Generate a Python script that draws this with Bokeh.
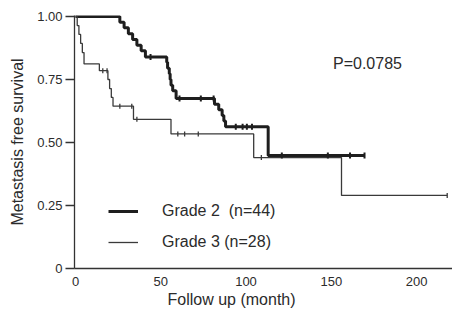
import numpy as np
from bokeh.plotting import figure
from bokeh.models import (Range1d, FixedTicker, Label, Legend, LegendItem, Title)
from bokeh.embed import file_html
from bokeh.resources import INLINE

# ---- data ----
# Grade 2 (n=44): step times (months) and survival after each step
g2_time = [0, 26, 28.5, 31, 33.5, 36, 38.5, 41, 53.5, 54, 55, 55.5, 56, 57, 59,
           81.5, 84, 86, 87, 88, 113, 169.5]
g2_surv = [1.0, 0.977, 0.955, 0.932, 0.909, 0.886, 0.864, 0.839, 0.818, 0.795,
           0.773, 0.750, 0.727, 0.705, 0.675, 0.652, 0.630, 0.607, 0.585, 0.563,
           0.448, 0.448]
g2_censor = [44, 61, 73.5, 81, 94, 98, 100.5, 103.5, 121, 148, 161, 169.5]

# Grade 3 (n=28)
g3_time = [0, 1, 2, 3, 4, 5, 14, 19, 20, 21, 22, 34, 56, 104.5, 156, 218]
g3_surv = [1.0, 0.964, 0.929, 0.893, 0.857, 0.812, 0.785, 0.75, 0.714, 0.679,
           0.644, 0.592, 0.534, 0.44, 0.29, 0.29]
g3_censor = [16, 18.5, 26, 33, 36, 60, 64, 72, 109, 218]

y_ticks = [0, 0.25, 0.5, 0.75, 1.0]
y_tick_labels = {0: "0", 0.25: "0.25", 0.5: "0.50", 0.75: "0.75", 1.0: "1.00"}
x_ticks = [0, 50, 100, 150, 200]

labels = ["Grade 2  (n=44)", "Grade 3 (n=28)"]
p_value_text = "P=0.0785"
x_title = "Follow up (month)"
y_title = "Metastasis free survival"

FONT = "Liberation Sans"
TXT = "#2b2b2b"


def surv_at(times, survs, t):
    idx = np.searchsorted(np.asarray(times), t, side="right") - 1
    return [survs[i] for i in idx]


p = figure(width=452, height=309, output_backend="svg", toolbar_location=None,
           x_range=Range1d(-0.59, 221.1), y_range=Range1d(0, 1.004),
           min_border_left=74, min_border_right=0, min_border_top=15,
           min_border_bottom=41)
p.outline_line_color = None
p.xgrid.visible = False
p.ygrid.visible = False
p.background_fill_color = "white"
p.border_fill_color = "white"

r2 = p.step(g2_time, g2_surv, mode="after", line_color="#1e1e1e", line_width=3)
r3 = p.step(g3_time, g3_surv, mode="after", line_color="#3a3a3a", line_width=1.3)

p.scatter(g2_censor, surv_at(g2_time, g2_surv, g2_censor), marker="dash",
          angle=np.pi / 2, size=6, line_color="#1e1e1e", line_width=2)
p.scatter(g3_censor, surv_at(g3_time, g3_surv, g3_censor), marker="dash",
          angle=np.pi / 2, size=5, line_color="#3a3a3a", line_width=1.3)

# axes
yax = p.yaxis[0]
yax.ticker = FixedTicker(ticks=y_ticks)
yax.major_label_overrides = y_tick_labels
yax.minor_tick_line_color = None
yax.major_tick_in = 0
yax.major_tick_out = 9
yax.major_tick_line_color = "#333333"
yax.major_tick_line_width = 1.3
yax.axis_line_color = "#333333"
yax.axis_line_width = 1.3
yax.major_label_standoff = 3
yax.major_label_text_font = FONT
yax.major_label_text_font_size = "13px"
yax.major_label_text_color = TXT
yax.axis_label = y_title
yax.axis_label_text_font = FONT
yax.axis_label_text_font_size = "16px"
yax.axis_label_text_font_style = "normal"
yax.axis_label_text_color = TXT
yax.axis_label_standoff = 8

xax = p.xaxis[0]
xax.ticker = FixedTicker(ticks=x_ticks)
xax.minor_tick_line_color = None
xax.major_tick_in = 0
xax.major_tick_out = 0
xax.axis_line_color = "#333333"
xax.axis_line_width = 1.5
xax.major_label_standoff = 8
xax.major_label_text_font = FONT
xax.major_label_text_font_size = "13px"
xax.major_label_text_color = TXT

p.add_layout(Title(text=x_title, align="left", offset=93, standoff=0,
                   text_font=FONT, text_font_size="16px",
                   text_font_style="normal", text_color=TXT), "below")

p.add_layout(Label(x=151, y=0.813, text=p_value_text, text_align="left",
                   text_baseline="middle", text_font=FONT,
                   text_font_size="16px", text_color=TXT))

legend = Legend(items=[LegendItem(label=labels[0], renderers=[r2]),
                       LegendItem(label=labels[1], renderers=[r3])],
                location=(34, 16), orientation="vertical",
                glyph_width=30, glyph_height=20, label_height=20,
                label_standoff=24, spacing=11, padding=0, margin=0,
                border_line_alpha=0, background_fill_alpha=0,
                label_text_font=FONT, label_text_font_size="16px",
                label_text_color=TXT)
p.add_layout(legend)

open("out.html", "w").write(file_html(p, INLINE))
